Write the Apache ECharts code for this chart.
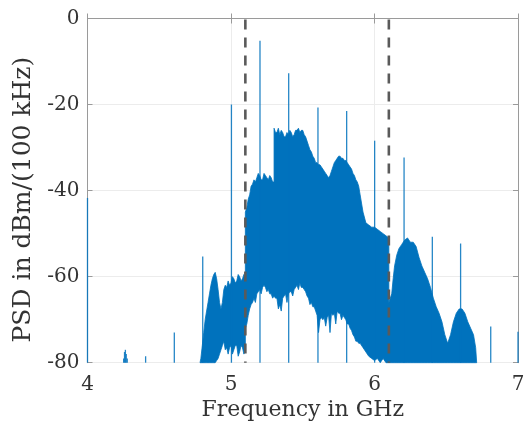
<!DOCTYPE html>
<html>
<head>
<meta charset="utf-8">
<script src="https://cdn.jsdelivr.net/npm/echarts@6/dist/echarts.min.js"></script>
<style>
  html, body { margin: 0; padding: 0; background: #fff; }
  #chart { width: 531px; height: 431px; }
</style>
</head>
<body>
<div id="chart"></div>
<script>
// axis ticks
const freqTicks = [4, 5, 6, 7]
const psdTicks = [-80, -60, -40, -20, 0]

// envelope of the dense spectrum: frequency (GHz), upper and lower level (dBm/(100 kHz))
const bandFreq = [
  4.784, 4.79, 4.80, 4.81, 4.82, 4.83, 4.84, 4.85, 4.86, 4.87, 4.88, 4.89, 4.90, 4.91, 4.92, 4.93, 4.94, 4.95, 4.96, 4.97, 4.98,
  4.99, 5.00, 5.01, 5.02, 5.03, 5.04, 5.05, 5.06, 5.07, 5.08, 5.09, 5.10,
  5.10, 5.11, 5.12, 5.13, 5.14, 5.15, 5.16, 5.17, 5.18, 5.19, 5.20, 5.21, 5.22, 5.23, 5.24, 5.25, 5.26, 5.27, 5.28, 5.29, 5.30,
  5.30, 5.31, 5.32, 5.33, 5.34, 5.35, 5.36, 5.37, 5.38, 5.39, 5.40, 5.41, 5.42, 5.43, 5.44, 5.45, 5.46, 5.47, 5.48, 5.49, 5.50,
  5.51, 5.52, 5.53, 5.54, 5.55, 5.56, 5.57, 5.58, 5.59, 5.60, 5.61, 5.62, 5.63, 5.64, 5.65, 5.66, 5.67, 5.68, 5.69, 5.70,
  5.71, 5.72, 5.73, 5.74, 5.75, 5.76, 5.77, 5.78, 5.79, 5.80, 5.81, 5.82, 5.83, 5.84, 5.85, 5.86, 5.87, 5.88, 5.89, 5.90,
  5.92, 5.94, 5.96, 5.98, 6.00, 6.02, 6.04, 6.06, 6.08, 6.10,
  6.10, 6.12, 6.13, 6.14, 6.155, 6.17, 6.19, 6.21, 6.23, 6.25, 6.27, 6.29, 6.31, 6.33, 6.35, 6.37, 6.39,
  6.41, 6.43, 6.45, 6.47, 6.49, 6.51, 6.53, 6.55, 6.57, 6.59, 6.61, 6.63, 6.65, 6.67, 6.69, 6.705, 6.712
]
const bandHi = [
  -80, -79, -76, -73, -70, -68, -66, -64, -62, -60.5, -59.5, -59, -60.5, -63, -66, -67.5, -66, -63, -62, -62.5, -61,
  -62, -61.5, -60, -60.5, -61.5, -61, -59.5, -60, -61, -60.5, -59.5, -60,
  -45, -44, -42, -41, -39, -38.5, -37.5, -38, -37, -36, -36.5, -37.5, -37.5, -36, -36.5, -37, -37.5, -36.5, -37, -38, -38,
  -25.5, -26.5, -26.5, -25.5, -27, -26, -26.5, -27.5, -27.5, -26.5, -27, -26, -26.5, -27.5, -27, -26, -26, -25.5, -26.5, -26, -26,
  -27, -27.5, -28.5, -29.5, -30.5, -31, -32, -32.5, -33.5, -33.5, -34, -34, -34.5, -35, -35.5, -36, -36.5, -37, -36.5, -35.5,
  -34.5, -33.5, -33, -32.5, -32, -32, -32.5, -32.5, -33, -33, -33.5, -34, -34.5, -35, -36, -36.5, -37.5, -38, -39, -41,
  -45, -47.5, -48, -48.5, -48.5, -49, -49.5, -50, -50.5, -51,
  -66, -64, -60.5, -57.5, -55, -53.5, -52.5, -51.5, -51, -52, -52, -53, -55.5, -57.5, -59, -60.5, -62.5,
  -65, -67, -68.5, -70.5, -73.5, -75.5, -73.5, -70.5, -68.5, -67.5, -67.5, -68.5, -70.5, -72, -73.5, -76.5, -80
]
const bandLo = [
  -80, -80, -80, -80, -80, -80, -80, -80, -80, -80, -80, -80, -79.5, -79, -78, -77, -76, -75, -77, -76.5, -78,
  -76.5, -76, -78, -77, -76, -76, -78.5, -77.5, -76, -76.5, -78, -77,
  -72, -71, -69, -67.5, -66.5, -66, -65, -66, -64, -63.5, -63, -64, -62.5, -62, -62.5, -63.5, -63, -64, -64, -65, -64.5,
  -64.5, -65, -65, -67.5, -66.5, -68, -65, -64.5, -64, -66, -64, -63.5, -63.5, -64.5, -63, -62.5, -62, -63, -61.5, -62.5, -62.5,
  -63, -63.5, -64.5, -65, -66.5, -66, -67, -67, -68, -69, -73, -70, -69.5, -70, -69.5, -71.5, -69.5, -69, -73, -68.5,
  -69, -68.5, -71, -68, -68.5, -68.5, -70, -69, -69.5, -70, -71, -71, -72, -72.5, -73.5, -74, -75, -75, -75.5, -75.5,
  -76.5, -77.5, -78.5, -79, -79.5, -79, -80, -79, -80, -80,
  -80, -80, -80, -80, -80, -80, -80, -80, -80, -80, -80, -80, -80, -80, -80, -80, -80,
  -80, -80, -80, -80, -80, -80, -80, -80, -80, -80, -80, -80, -80, -80, -80, -80, -80
]

// narrow spurs: frequency (GHz) and peak level
const spurFreq = [4.0, 4.252, 4.258, 4.264, 4.27, 4.277, 4.405, 4.605, 4.803, 5.003, 5.202, 5.402, 5.606, 5.806, 6.001, 6.206, 6.403, 6.600, 6.81, 7.0]
const spurPeak = [-41.7, -79, -77.5, -77, -78, -79, -78.5, -73, -55.3, -20, -5.2, -12.7, -20.7, -21.5, -28.4, -32.3, -50.7, -52.3, -71.6, -72.8]

// dashed band edges
const markerFreq = [5.1, 6.1]

const BLUE = '#0072BD'
const AXIS_GRAY = '#9a9a9a'
const TEXT = '#333333'
const FONT = 'DejaVu Serif'

const chart = echarts.init(document.getElementById('chart'))

const bandData = bandFreq.map((f, i) => [f, bandHi[i], bandLo[i]])
const spurData = spurFreq.map((f, i) => [f, spurPeak[i]])
const yMin = psdTicks[0]
const yMax = psdTicks[psdTicks.length - 1]

const baseX = {
  type: 'value',
  min: freqTicks[0],
  max: freqTicks[freqTicks.length - 1],
  interval: 1,
  axisLine: { show: true, lineStyle: { color: AXIS_GRAY, width: 1 } },
  axisTick: { show: true, inside: true, length: 5, lineStyle: { color: AXIS_GRAY } }
}
const baseY = {
  type: 'value',
  min: yMin,
  max: yMax,
  interval: 20,
  axisLine: { show: true, lineStyle: { color: AXIS_GRAY, width: 1 } },
  axisTick: { show: true, inside: true, length: 5, lineStyle: { color: AXIS_GRAY } }
}

const option = {
  animation: false,
  backgroundColor: '#fff',
  grid: { left: 87.5, right: 13, top: 18.5, bottom: 68.3, containLabel: false },
  xAxis: [
    Object.assign({}, baseX, {
      position: 'bottom',
      name: 'Frequency in GHz',
      nameLocation: 'middle',
      nameGap: 32,
      nameTextStyle: { fontFamily: FONT, fontSize: 22, color: TEXT },
      axisLabel: { fontFamily: FONT, fontSize: 20, color: TEXT, margin: 12 },
      splitLine: { show: true, lineStyle: { color: '#ececec', width: 1 } }
    }),
    Object.assign({}, baseX, {
      position: 'top',
      axisLabel: { show: false },
      splitLine: { show: false }
    })
  ],
  yAxis: [
    Object.assign({}, baseY, {
      position: 'left',
      name: 'PSD in dBm/(100 kHz)',
      nameLocation: 'middle',
      nameGap: 44,
      nameTextStyle: { fontFamily: FONT, fontSize: 25, color: TEXT, padding: [0, 18, 0, 0] },
      axisLabel: { fontFamily: FONT, fontSize: 20, color: TEXT, margin: 8 },
      splitLine: { show: true, lineStyle: { color: '#ececec', width: 1 } }
    }),
    Object.assign({}, baseY, {
      position: 'right',
      axisLabel: { show: false },
      splitLine: { show: false }
    })
  ],
  series: [
    {
      // whole envelope drawn as one polygon: upper edge left->right, lower edge back
      name: 'spectrum',
      type: 'custom',
      xAxisIndex: 0,
      yAxisIndex: 0,
      z: 3,
      data: bandData,
      encode: { x: 0, y: [1, 2] },
      renderItem: (params, api) => {
        if (params.dataIndex !== 0) return null
        const upper = bandFreq.map((f, i) => api.coord([f, bandHi[i]]))
        const lower = bandFreq.map((f, i) => api.coord([f, bandLo[i]])).reverse()
        return {
          type: 'polygon',
          shape: { points: upper.concat(lower) },
          style: { fill: BLUE, stroke: BLUE, lineWidth: 0.8 }
        }
      }
    },
    {
      name: 'spurs',
      type: 'custom',
      xAxisIndex: 0,
      yAxisIndex: 0,
      z: 4,
      data: spurData,
      encode: { x: 0, y: 1 },
      renderItem: (params, api) => {
        const top = api.coord([api.value(0), api.value(1)])
        const bot = api.coord([api.value(0), yMin])
        return {
          type: 'line',
          shape: { x1: bot[0], y1: bot[1], x2: top[0], y2: top[1] },
          style: { stroke: BLUE, lineWidth: 1.3, opacity: 0.85 }
        }
      }
    },
    {
      name: 'edges',
      type: 'custom',
      xAxisIndex: 0,
      yAxisIndex: 0,
      z: 6,
      data: markerFreq.map(f => [f, yMax]),
      encode: { x: 0, y: 1 },
      renderItem: (params, api) => {
        const top = api.coord([api.value(0), yMax])
        const bot = api.coord([api.value(0), yMin])
        return {
          type: 'line',
          shape: { x1: top[0], y1: top[1] + 1, x2: bot[0], y2: bot[1] },
          style: { stroke: '#5a5a5a', lineWidth: 2.6, lineDash: [10, 8] }
        }
      }
    }
  ]
}

chart.setOption(option)
</script>
</body>
</html>
